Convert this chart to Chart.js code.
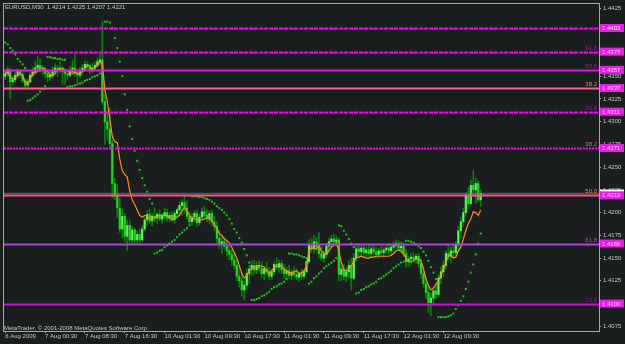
<!DOCTYPE html>
<html><head><meta charset="utf-8">
<script src="https://cdn.jsdelivr.net/npm/chart.js@4.4.1/dist/chart.umd.min.js"></script>
<style>html,body{margin:0;padding:0;background:#1a1e1e;}canvas{display:block;}</style>
</head><body>
<canvas id="c" width="625" height="344"></canvas>
<script>
// ---- text ----
const symbolTitle = 'EURUSD,M30  1.4214 1.4225 1.4207 1.4221';
const copyright = 'MetaTrader, \u00a9 2001-2008 MetaQuotes Software Corp.';

// ---- time axis (one label every 16 M30 bars) ----
const timeLabels = ['6 Aug 2009','7 Aug 00:30','7 Aug 08:30','7 Aug 16:30','10 Aug 01:30','10 Aug 09:30',
  '10 Aug 17:30','11 Aug 01:30','11 Aug 09:30','11 Aug 17:30','12 Aug 01:30','12 Aug 09:30'];
const BARS_PER_LABEL = 16;
const TOTAL_SLOTS = 239;

// ---- price data, in pips above 1.4000 ----
const PIP_BASE = 1.4;
const openPips = [
350,353,357,344,346,351,355,352,345,340, 344,351,355,359,362,359,357,353,349,351,
355,359,357,359,355,353,351,355,359,353, 351,355,359,363,361,357,359,362,366,368,
322,300,292,276,232,218,205,182,196,174, 186,170,181,170,176,170,182,192,198,191,
196,194,198,193,196,200,194,197,192,199, 203,208,211,205,196,190,195,199,189,195,
201,197,193,199,190,185,172,165,168,163, 158,154,148,142,130,125,115,120,133,138,
142,137,142,139,133,138,135,130,135,143, 140,144,137,133,136,131,134,132,129,133,
130,135,146,165,160,168,162,155,150,154, 163,168,171,168,170,132,138,130,135,142,
128,150,160,157,161,156,159,155,160,157, 154,158,156,159,161,158,162,164,166,161,
163,155,146,149,151,149,152,144,133,122, 112,101,106,114,110,128,135,142,155,152,
158,156,165,180,190,200,218,210,230,225, 232,214];
const highPips = [
357,360,358,350,354,358,357,354,347,347, 354,360,366,372,369,362,360,356,355,360,
364,362,366,361,358,356,361,368,374,356, 360,363,367,366,363,364,366,370,376,410,
330,312,315,280,238,231,216,204,199,192, 191,185,183,180,182,186,195,202,204,200,
205,200,203,199,205,204,200,201,202,205, 212,214,218,213,201,199,202,203,198,205,
207,203,202,203,196,190,180,175,173,170, 165,160,156,148,142,134,125,138,142,147,
148,146,147,146,141,146,140,138,146,150, 148,147,143,140,142,137,140,138,135,138,
137,148,170,172,175,173,178,163,158,166, 172,175,176,174,172,145,143,140,147,150,
155,165,166,165,165,162,164,163,164,162, 161,163,162,165,166,165,168,170,169,168,
167,160,152,155,156,154,155,150,140,128, 120,112,118,122,132,140,147,158,164,162,
165,168,185,195,205,222,228,236,246,238, 235,225];
const lowPips = [
346,350,325,340,343,348,349,343,337,336, 342,349,352,357,355,352,348,344,345,348,
352,350,354,341,341,346,349,352,350,343, 348,352,356,356,353,354,357,360,362,319,
275,280,270,216,214,194,178,172,168,158, 166,166,166,165,166,168,180,186,188,185,
190,188,191,188,192,190,190,190,188,194, 198,197,200,192,187,186,190,185,186,192,
194,190,188,186,180,166,160,155,160,152, 148,142,138,125,118,108,104,116,122,131,
132,133,135,128,126,131,126,127,132,137, 134,133,128,128,128,126,129,126,124,127,
128,133,144,156,155,158,150,147,145,150, 158,162,164,163,125,125,126,124,128,115,
126,146,152,152,153,151,152,151,153,150, 150,153,151,155,154,155,157,160,158,156,
152,140,141,143,145,144,140,128,118,105, 90,87,100,105,108,122,130,138,148,145,
150,152,160,172,185,196,205,208,218,210, 212,207];
const closePips = [
353,357,344,346,351,355,352,345,340,344, 351,355,359,362,359,357,353,349,351,355,
359,357,359,355,353,351,355,359,353,351, 355,359,363,361,357,359,362,366,368,322,
300,292,276,232,218,205,182,196,174,186, 170,181,170,176,170,182,192,198,191,196,
194,198,193,196,200,194,197,192,199,203, 208,211,205,196,190,195,199,189,195,201,
197,193,199,190,185,172,165,168,163,158, 154,148,142,130,125,115,120,133,138,142,
137,142,139,133,138,135,130,135,143,140, 144,137,133,136,131,134,132,129,133,130,
135,146,165,160,168,162,155,150,154,163, 168,171,168,170,132,138,130,135,142,128,
150,160,157,161,156,159,155,160,157,154, 158,156,159,161,158,162,164,166,161,163,
155,146,149,151,149,152,144,133,122,112, 101,106,114,110,128,135,142,155,152,158,
156,165,180,190,200,218,210,230,225,232, 214,221];
const maPips = [
355,353,349,347,349,351,353,350,344,342, 347,352,354,355,359,359,358,355,352,350,
353,357,358,358,357,356,354,353,355,353, 353,355,358,362,361,357,359,362,366,364,
335,322,303,284,278,277,259,246,242,239, 224,214,209,203,197,195,197,196,194,193,
194,196,197,197,197,197,194,192,194,195, 197,202,205,202,197,194,193,192,192,192,
193,194,193,191,186,183,177,175,171,169, 167,162,156,150,142,133,128,131,136,138,
140,141,142,141,140,136,133,136,140,141, 142,141,138,136,134,134,135,136,133,134,
136,141,158,161,161,160,164,158,155,154, 158,162,164,167,158,145,137,136,138,141,
147,150,151,152,151,150,150,151,151,152, 152,152,152,152,152,153,155,158,159,158,
154,150,146,146,147,149,149,147,138,127, 120,115,117,121,125,131,138,145,152,154,
150,151,158,162,171,180,188,193,201,200, 197,203];
const sarPips = [
387,385,381,378,374,369,366,363,359,323, 324,326,328,330,333,336,339,371,371,370,
370,369,369,368,368,338,339,339,340,341, 342,343,345,346,347,349,350,351,353,354,
410,410,409,403,392,381,366,350,330,313, 295,281,268,257,247,238,230,223,215,210,
155,156,158,159,162,164,166,168,170,173, 176,178,181,183,186,218,218,218,217,217,
216,215,214,212,210,207,205,203,200,197, 193,188,182,178,172,167,160,153,145,104,
104,105,106,108,109,111,113,116,118,119, 121,122,124,127,155,155,154,154,153,152,
151,150,122,124,128,130,133,135,139,141, 143,145,147,150,186,185,180,176,171,166,
162,111,112,115,116,118,119,121,122,124, 127,128,130,132,134,136,139,141,143,145,
146,169,169,168,167,165,163,161,157,153, 147,140,134,127,85,85,85,85,86,87,
89,94,98,103,108,116,124,134,143,154, 166,177];

// ---- price axis ticks ----
const priceTicks = [1.4075,1.4100,1.4125,1.4150,1.4175,1.4200,1.4225,1.4250,1.4275,1.4300,
  1.4325,1.4350,1.4375,1.4400,1.4425];
const bidPrice = 1.4221;

// ---- fibonacci levels ----
const fibPrices = [1.4403, 1.4377, 1.4357, 1.4337, 1.4311, 1.4271, 1.4219, 1.4166, 1.4100];
const fibRatios = ['', '61.8', '50.0', '38.2', '23.6', '38.2', '50.0', '61.8', '23.6'];

// ---- styles (kept apart from data) ----
const fibLineColors = ['#ff00ff','#ff00ff','#ee10ee','#ff5a9c','#ff00ff','#ff00ff','#ff4f8f','#b040e0','#c018d0'];
const fibDashes = [[4,1],[4,1],[],[],[4,1],[2,1],[],[],[]];
const fibRatioColors = ['#c000c0','#c000c0','#c000c0','#ff8040','#c000c0','#ff5a80','#ff8040','#c040c0','#a000c0'];
const BG = '#1a1e1e', TXT = '#c8c8c8', FRAME = '#a8a8a8';
const FONT = 'Liberation Sans';

const toPrice = p => (p == null ? null : +(PIP_BASE + p / 10000).toFixed(4));
const categories = Array.from({length: TOTAL_SLOTS}, (_, i) =>
  (i % BARS_PER_LABEL === 0 && timeLabels[i / BARS_PER_LABEL]) ? timeLabels[i / BARS_PER_LABEL] : '');

const wickData = highPips.map((h, i) => [toPrice(lowPips[i]), toPrice(h)]);
const bodyData = openPips.map((o, i) => [toPrice(o), toPrice(closePips[i])]);

const overlay = {
  id: 'mtOverlay',
  beforeDraw(chart) {
    const c = chart.ctx;
    c.save(); c.fillStyle = BG; c.fillRect(0, 0, chart.width, chart.height); c.restore();
  },
  afterDatasetsDraw(chart) {
    const c = chart.ctx, a = chart.chartArea, y = chart.scales.y;
    c.save();
    c.strokeStyle = 'rgba(120,120,120,0.6)'; c.lineWidth = 1.5; c.setLineDash([]);
    const by = y.getPixelForValue(bidPrice);
    c.beginPath(); c.moveTo(a.left, by); c.lineTo(a.right, by); c.stroke();
    fibPrices.forEach((p, i) => {
      const py = Math.round(y.getPixelForValue(p)) + 0.5;
      c.strokeStyle = fibLineColors[i];
      c.lineWidth = 2;
      c.setLineDash(fibDashes[i]);
      c.beginPath(); c.moveTo(a.left, py); c.lineTo(a.right, py); c.stroke();
    });
    c.restore();
  },
  afterDraw(chart) {
    const c = chart.ctx, a = chart.chartArea, y = chart.scales.y;
    c.save();
    c.strokeStyle = FRAME; c.lineWidth = 1; c.setLineDash([]);
    c.strokeRect(a.left - 0.5, a.top - 0.5, a.right - a.left + 1, a.bottom - a.top + 1);
    c.font = '6px "' + FONT + '"';
    c.textAlign = 'right'; c.textBaseline = 'bottom';
    fibPrices.forEach((p, i) => {
      if (!fibRatios[i]) return;
      c.fillStyle = fibRatioColors[i];
      c.fillText(fibRatios[i], a.right - 2, y.getPixelForValue(p) - 0.5);
    });
    c.textAlign = 'left'; c.textBaseline = 'middle';
    const by = y.getPixelForValue(bidPrice);
    c.fillStyle = '#ffffff'; c.fillRect(a.right + 1, by - 4, 24, 8);
    c.fillStyle = '#000000'; c.fillText(bidPrice.toFixed(4), a.right + 3, by + 0.5);
    fibPrices.forEach((p, i) => {
      const py = y.getPixelForValue(p);
      c.fillStyle = '#e81ee8'; c.fillRect(a.right + 1, py - 4, 24, 8);
      c.fillStyle = '#ffe0ff'; c.fillText(p.toFixed(4), a.right + 3, py + 0.5);
    });
    c.fillStyle = TXT; c.textAlign = 'left';
    c.font = '6px "' + FONT + '"';
    c.textBaseline = 'top';
    c.fillText(symbolTitle, 5, 4);
    c.textBaseline = 'alphabetic';
    c.fillText(copyright, 4, a.bottom - 1);
    c.restore();
  }
};

new Chart(document.getElementById('c'), {
  type: 'bar',
  data: {
    labels: categories,
    datasets: [
      { type: 'bar', label: 'range', data: wickData, backgroundColor: '#0a7d0a',
        barThickness: 1, grouped: false, order: 4 },
      { type: 'bar', label: 'body', data: bodyData, grouped: false, order: 3, barThickness: 1.5, minBarLength: 1,
        backgroundColor: ctx => (closePips[ctx.dataIndex] >= openPips[ctx.dataIndex] ? '#5cf55c' : '#22d822') },
      { type: 'line', label: 'MA', data: maPips.map(toPrice), borderColor: '#ff8c1e', borderWidth: 1.2,
        pointRadius: 0, tension: 0, order: 2 },
      { type: 'line', label: 'SAR', data: sarPips.map(toPrice), showLine: false, pointStyle: 'rect',
        pointRadius: 1.4, pointBorderWidth: 0, pointBackgroundColor: '#19c819', order: 1 }
    ]
  },
  options: {
    responsive: false, animation: false, devicePixelRatio: 1, events: [],
    layout: { padding: { left: 2, top: 2, right: 0, bottom: 0 } },
    plugins: { legend: { display: false }, tooltip: { enabled: false } },
    scales: {
      x: {
        type: 'category', offset: true,
        afterFit: s => { s.height = 13; s.paddingLeft = 0; s.paddingRight = 0; },
        ticks: { autoSkip: false, maxRotation: 0, minRotation: 0, align: 'start', padding: 0,
          color: TXT, font: { family: FONT, size: 6 }, callback: (v, i) => categories[i] },
        grid: { offset: false, drawOnChartArea: false, tickLength: 2,
          color: ctx => (categories[ctx.index] ? FRAME : 'rgba(0,0,0,0)') },
        border: { display: false }
      },
      y: {
        position: 'right', min: 1.40698, max: 1.44294,
        afterBuildTicks: s => { s.ticks = priceTicks.map(v => ({ value: v })); },
        afterFit: s => { s.width = 26; s.paddingTop = 0; s.paddingBottom = 0; },
        ticks: { color: TXT, font: { family: FONT, size: 6 }, padding: 2,
          callback: v => Number(v).toFixed(4) },
        grid: { drawOnChartArea: false, tickLength: 2, color: FRAME },
        border: { display: false }
      }
    }
  },
  plugins: [overlay]
});
</script>
</body></html>
